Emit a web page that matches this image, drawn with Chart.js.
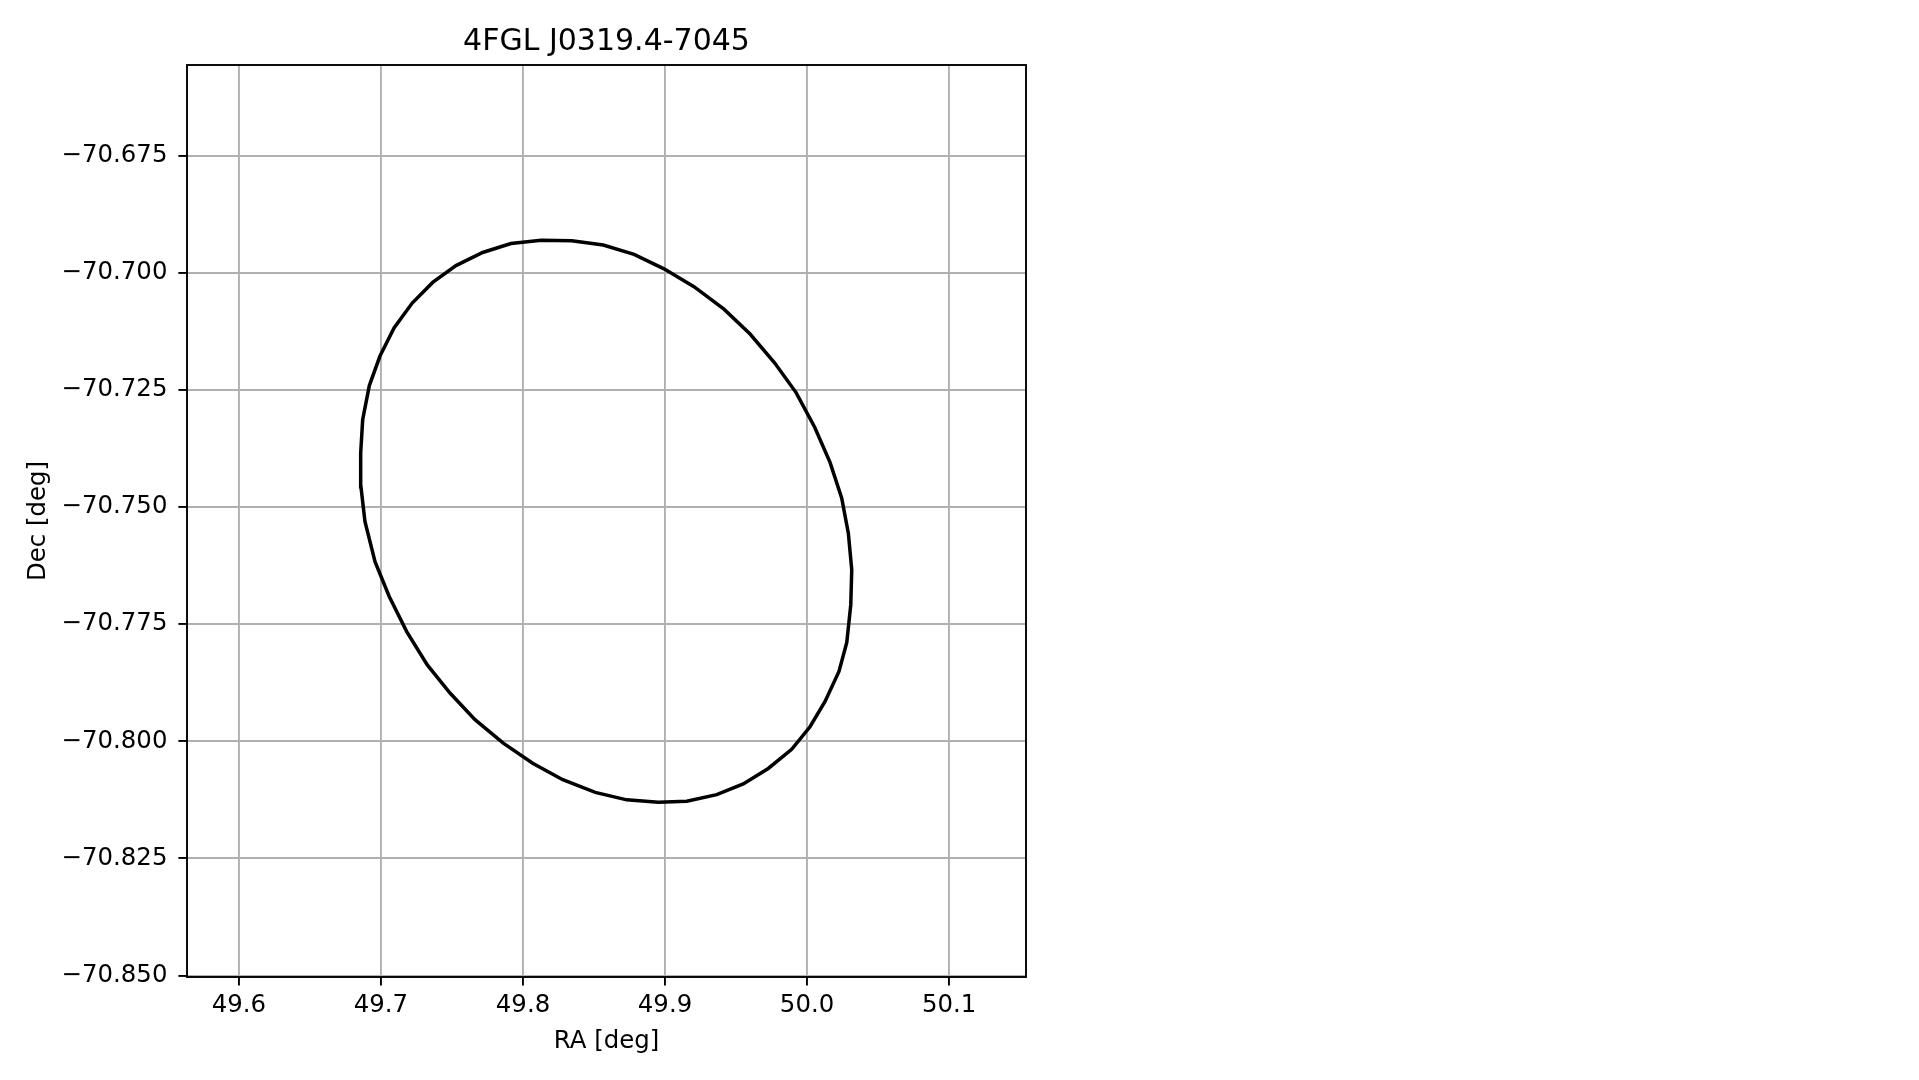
<!DOCTYPE html>
<html>
<head>
<meta charset="utf-8">
<script src="https://cdn.jsdelivr.net/npm/chart.js@4/dist/chart.umd.min.js"></script>
<style>
  html, body { margin: 0; padding: 0; background: #fff; }
  canvas { display: block; }
</style>
</head>
<body>
<canvas id="errorEllipse" width="1919" height="1080"></canvas>
<script>
// error ellipse outline (clockwise from the left edge)
const raDeg = [
  49.6857, 49.6871, 49.6918, 49.6993, 49.7092, 49.7220, 49.7364, 49.7528,
  49.7716, 49.7915, 49.8129, 49.8343, 49.8565, 49.8782, 49.8993, 49.9204,
  49.9415, 49.9599, 49.9770, 49.9923, 50.0054, 50.0162, 50.0244, 50.0291,
  50.0315, 50.0308, 50.0280, 50.0225, 50.0127, 50.0021, 49.9892, 49.9727,
  49.9551, 49.9364, 49.9153, 49.8953, 49.8730, 49.8509, 49.8280, 49.8068,
  49.7861, 49.7662, 49.7486, 49.7326, 49.7181, 49.7058, 49.6958, 49.6887,
  49.6859
];
const decDeg = [
  -70.7385, -70.7314, -70.7241, -70.7178, -70.7118, -70.7065, -70.7021, -70.6985,
  -70.6957, -70.6938, -70.6931, -70.6932, -70.6941, -70.6961, -70.6992, -70.7030,
  -70.7078, -70.7131, -70.7192, -70.7256, -70.7330, -70.7405, -70.7481, -70.7556,
  -70.7634, -70.7709, -70.7789, -70.7851, -70.7915, -70.7969, -70.8017, -70.8058,
  -70.8091, -70.8114, -70.8128, -70.8130, -70.8125, -70.8109, -70.8082, -70.8047,
  -70.8004, -70.7954, -70.7897, -70.7837, -70.7766, -70.7691, -70.7617, -70.7531,
  -70.7457
];

const raTicks = [49.6, 49.7, 49.8, 49.9, 50.0, 50.1];
const decTicks = [-70.850, -70.825, -70.800, -70.775, -70.750, -70.725, -70.700, -70.675];

const sourceName = '4FGL J0319.4-7045';

const FONT = 'DejaVu Sans';
const minus = (s) => s.replace('-', '\u2212');

// closed outline
const outline = raDeg.map((ra, i) => ({ x: ra, y: decDeg[i] }));
outline.push({ x: raDeg[0], y: decDeg[0] });

// matplotlib-style box round the plot area
const frame = {
  id: 'frame',
  afterDatasetsDraw(chart) {
    const { ctx, chartArea: a } = chart;
    ctx.save();
    ctx.strokeStyle = '#000';
    ctx.lineWidth = 1.9;
    ctx.strokeRect(a.left, a.top, a.right - a.left, a.bottom - a.top);
    ctx.restore();
  },
};

new Chart(document.getElementById('errorEllipse').getContext('2d'), {
  type: 'scatter',
  data: {
    datasets: [{
      data: outline,
      showLine: true,
      borderColor: '#000',
      borderWidth: 3.5,
      pointRadius: 0,
      fill: false,
      tension: 0,
    }],
  },
  options: {
    responsive: false,
    animation: false,
    devicePixelRatio: 1,
    layout: { padding: { left: 0, right: 893, top: 0, bottom: 0 } },
    plugins: {
      legend: { display: false },
      tooltip: { enabled: false },
      title: {
        display: true,
        text: sourceName,
        fullSize: false,
        color: '#000',
        font: { family: FONT, size: 30, weight: 'normal' },
        padding: { top: 24.6, bottom: 4.4 },
      },
    },
    scales: {
      x: {
        type: 'linear',
        min: 49.5634,
        max: 50.1542,
        afterBuildTicks: (scale) => { scale.ticks = raTicks.map(v => ({ value: v })); },
        afterFit: (scale) => { scale.height = 103; },
        ticks: {
          color: '#000',
          font: { family: FONT, size: 24.4 },
          padding: 5,
          maxRotation: 0,
          callback: (v) => v.toFixed(1),
        },
        grid: { color: '#b0b0b0', lineWidth: 1.9, tickLength: 8.6, tickColor: '#000', tickWidth: 1.9 },
        border: { display: false },
        title: {
          display: true,
          text: 'RA [deg]',
          color: '#000',
          font: { family: FONT, size: 24.4 },
          padding: { top: 0, bottom: 24 },
        },
      },
      y: {
        type: 'linear',
        min: -70.8503,
        max: -70.6557,
        afterBuildTicks: (scale) => { scale.ticks = decTicks.map(v => ({ value: v })); },
        afterFit: (scale) => { scale.width = 187; },
        ticks: {
          color: '#000',
          font: { family: FONT, size: 24.4 },
          padding: 11,
          callback: (v) => minus(v.toFixed(3)),
        },
        grid: { color: '#b0b0b0', lineWidth: 1.9, tickLength: 8.6, tickColor: '#000', tickWidth: 1.9 },
        border: { display: false },
        title: {
          display: true,
          text: 'Dec [deg]',
          color: '#000',
          font: { family: FONT, size: 24.4 },
          padding: { top: 24.3, bottom: 0 },
        },
      },
    },
  },
  plugins: [frame],
});
</script>
</body>
</html>
